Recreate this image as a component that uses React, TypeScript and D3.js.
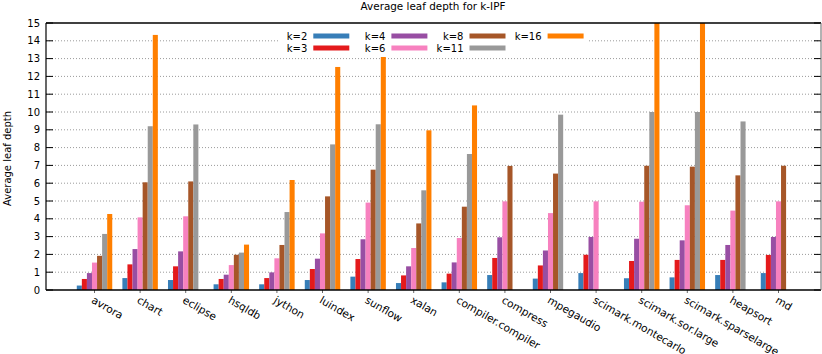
import { useRef, useEffect } from "react";
import * as d3 from "d3";

const categories = [
  "avrora", "chart", "eclipse", "hsqldb", "jython", "luindex", "sunflow", "xalan",
  "compiler.compiler", "compress", "mpegaudio", "scimark.montecarlo",
  "scimark.sor.large", "scimark.sparselarge", "heapsort", "md",
];

// null = no bar for that benchmark
const k2 = [0.25, 0.67, 0.56, 0.32, 0.32, 0.56, 0.75, 0.39, 0.43, 0.84, 0.64, 0.95, 0.66, 0.71, 0.84, 0.95];
const k3 = [0.62, 1.44, 1.33, 0.62, 0.67, 1.18, 1.74, 0.82, 0.92, 1.8, 1.38, 1.98, 1.63, 1.69, 1.69, 1.97];
const k4 = [0.95, 2.3, 2.17, 0.86, 0.99, 1.76, 2.85, 1.33, 1.55, 2.96, 2.22, 2.98, 2.88, 2.79, 2.53, 2.98];
const k6 = [1.54, 4.08, 4.14, 1.4, 1.78, 3.18, 4.91, 2.36, 2.92, 4.98, 4.32, 4.98, 4.96, 4.76, 4.46, 4.98];
const k8 = [1.92, 6.05, 6.1, 1.98, 2.53, 5.26, 6.76, 3.74, 4.68, 6.97, 6.54, null, 6.98, 6.93, 6.44, 6.98];
const k11 = [3.15, 9.2, 9.3, 2.1, 4.38, 8.18, 9.31, 5.6, 7.64, null, 9.85, null, 10.0, 10.0, 9.47, null];
const k16 = [4.27, 14.33, null, 2.55, 6.18, 12.53, 13.09, 8.97, 10.37, null, null, null, 20, 20, null, null];

const seriesNames = ["k=2", "k=3", "k=4", "k=6", "k=8", "k=11", "k=16"];
const seriesValues = [k2, k3, k4, k6, k8, k11, k16];
const colors = ["#377eb8", "#e41a1c", "#984ea3", "#f781bf", "#a65628", "#999999", "#ff7f00"];
const yTicks = d3.range(0, 16);

export default function App() {
  const svgRef = useRef<SVGSVGElement>(null);

  useEffect(() => {
    const svg = d3.select(svgRef.current);
    svg.selectAll("*").remove();

    const width = 822;
    const height = 354;
    const left = 46, right = 821, top = 23, bottom = 290;
    const font = "DejaVu Sans, sans-serif";

    const x = d3.scaleLinear().domain([-1.064, 15.932]).range([left, right]);
    const y = d3.scaleLinear().domain([0, 15]).range([bottom, top]);
    const step = x(1) - x(0);
    const bw = step / 9;

    svg.attr("width", width).attr("height", height);

    svg.append("defs").append("clipPath").attr("id", "plot-clip")
      .append("rect")
      .attr("x", left).attr("y", top)
      .attr("width", right - left).attr("height", bottom - top);

    // Grid
    svg.append("g")
      .selectAll("line")
      .data(yTicks.filter(d => d > 0 && d < 15))
      .join("line")
      .attr("x1", left).attr("x2", right)
      .attr("y1", d => y(d)).attr("y2", d => y(d))
      .attr("stroke", "#9a9a9a")
      .attr("stroke-width", 1)
      .attr("stroke-dasharray", "1,2");

    // Bars
    const bars = svg.append("g").attr("clip-path", "url(#plot-clip)");
    seriesValues.forEach((vals, si) => {
      bars.append("g")
        .selectAll("rect")
        .data(vals.map((v, i) => ({ v, i })).filter(d => d.v != null))
        .join("rect")
        .attr("x", d => x(d.i) + (si - 3.5) * bw)
        .attr("width", bw)
        .attr("y", d => y(d.v as number))
        .attr("height", d => y(0) - y(d.v as number))
        .attr("fill", colors[si]);
    });

    // Legend (opaque box)
    const leg = svg.append("g");
    leg.append("rect")
      .attr("x", 278).attr("y", 25)
      .attr("width", 311).attr("height", 30)
      .attr("fill", "#fff");
    seriesNames.forEach((name, i) => {
      const col = Math.floor(i / 2);
      const row = i % 2;
      const sx = 313.3 + col * 78.1;
      const cy = 36 + row * 12;
      leg.append("text")
        .attr("x", sx - 6).attr("y", cy)
        .attr("dy", "0.35em")
        .attr("text-anchor", "end")
        .style("font-family", font)
        .style("font-size", "10px")
        .text(name);
      leg.append("rect")
        .attr("x", sx).attr("y", cy - 2.5)
        .attr("width", 36).attr("height", 5)
        .attr("fill", colors[i]);
    });

    // Y axis ticks and labels
    const yAxis = svg.append("g");
    yAxis.selectAll("line.tl")
      .data(yTicks)
      .join("line")
      .attr("x1", left).attr("x2", left + 7)
      .attr("y1", d => y(d)).attr("y2", d => y(d))
      .attr("stroke", "#000");
    yAxis.selectAll("line.tr")
      .data(yTicks)
      .join("line")
      .attr("x1", right - 7).attr("x2", right)
      .attr("y1", d => y(d)).attr("y2", d => y(d))
      .attr("stroke", "#000");
    yAxis.selectAll("text")
      .data(yTicks)
      .join("text")
      .attr("x", left - 6)
      .attr("y", d => y(d))
      .attr("dy", "0.35em")
      .attr("text-anchor", "end")
      .style("font-family", font)
      .style("font-size", "10px")
      .text(d => d);

    // Border
    svg.append("line").attr("x1", left).attr("x2", right).attr("y1", top).attr("y2", top)
      .attr("stroke", "#000").attr("stroke-width", 1.5);
    svg.append("line").attr("x1", left).attr("x2", right).attr("y1", bottom).attr("y2", bottom)
      .attr("stroke", "#000").attr("stroke-width", 1.5);
    svg.append("line").attr("x1", left).attr("x2", left).attr("y1", top).attr("y2", bottom)
      .attr("stroke", "#000").attr("stroke-width", 1.2);
    svg.append("line").attr("x1", right).attr("x2", right).attr("y1", top).attr("y2", bottom)
      .attr("stroke", "#666").attr("stroke-width", 1);

    // X labels
    const xg = svg.append("g");
    xg.selectAll("line")
      .data(categories)
      .join("line")
      .attr("x1", (d, i) => x(i)).attr("x2", (d, i) => x(i))
      .attr("y1", bottom).attr("y2", bottom + 3)
      .attr("stroke", "#000").attr("stroke-width", 0.6);
    xg.selectAll("text")
      .data(categories)
      .join("text")
      .attr("transform", (d, i) => `translate(${x(i) - 2},${bottom + 9}) rotate(30)`)
      .attr("text-anchor", "start")
      .attr("dy", "0.35em")
      .style("font-family", font)
      .style("font-size", "10.6px")
      .text(d => d);

    // Title
    svg.append("text")
      .attr("x", 433).attr("y", 10)
      .attr("text-anchor", "middle")
      .style("font-family", font)
      .style("font-size", "10.4px")
      .text("Average leaf depth for k-IPF");

    // Y label
    svg.append("text")
      .attr("transform", `translate(11,${(top + bottom) / 2 + 2}) rotate(-90)`)
      .attr("text-anchor", "middle")
      .style("font-family", font)
      .style("font-size", "10px")
      .text("Average leaf depth");
  }, []);

  return <svg ref={svgRef} style={{ position: "absolute", left: 0, top: 0 }} />;
}
